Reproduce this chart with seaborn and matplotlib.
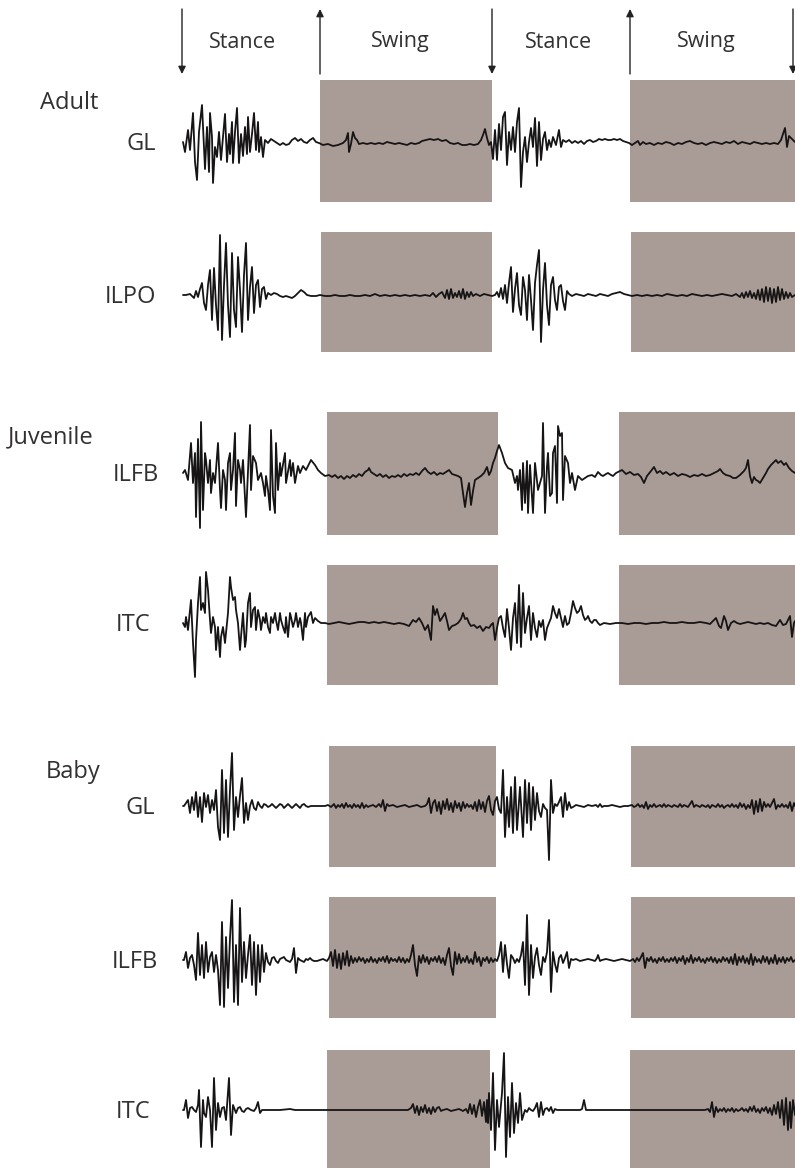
import matplotlib
matplotlib.use("Agg")
import matplotlib.pyplot as plt
import seaborn as sns
import pandas as pd

# ---------------- data: EMG traces, (time, amplitude) ----------------
ADULT_GL = [(183,0),(185,-10),(188,12),(190,-8),(193,29),(195,-20),(197,-38),(199,10),(202,37),(204,-5),(205,-27),(207,15),(209,-30),(210,29),(212,5),(213,-41),(215,-5),(217,-15),(219,10),(221,-18),(223,5),(225,28),(227,-20),(229,8),(230,-12),(232,20),(233,-21),(235,10),(237,34),(239,-21),(241,8),(243,-14),(245,15),(247,-12),(248,25),(250,-10),(252,8),(254,29),(256,-8),(258,20),(259,-10),(261,5),(263,-15),(265,2),(268,-1),(271,3),(274,1),(277,-1),(280,-3),(283,-1),(286,-3),(289,-2),(292,2),(295,4),(298,1),(301,3),(304,0),(307,-1),(310,2),(313,4),(316,0),(319,-1),(323,-3),(328,-2),(333,-4),(338,-3),(343,-1),(346,2),(348,9),(349,-10),(351,-2),(353,10),(355,4),(357,2),(359,-2),(363,-1),(367,-2),(371,-1),(375,-2),(379,-1),(383,-2),(387,0),(391,-1),(395,-2),(399,-1),(403,-2),(407,-3),(411,-1),(415,-2),(419,-1),(422,1),(426,2),(430,3),(434,2),(438,3),(442,1),(446,2),(450,-1),(454,-2),(458,-1),(462,-3),(466,-3),(470,-2),(474,-3),(478,-2),(481,2),(483,7),(485,13),(487,4),(489,-3),(491,0),(493,-17),(495,12),(497,-18),(499,18),(501,-8),(503,25),(505,30),(507,-23),(509,10),(511,-8),(513,15),(515,-10),(517,20),(519,34),(521,-45),(523,-10),(525,5),(527,-20),(529,0),(531,14),(533,-5),(535,24),(537,-24),(539,20),(541,-18),(543,3),(545,10),(547,-8),(549,2),(551,-5),(553,5),(556,-3),(559,12),(561,-5),(563,2),(566,0),(569,2),(572,-1),(575,1),(578,-1),(581,1),(584,-2),(587,1),(590,2),(593,0),(596,1),(599,3),(602,2),(605,3),(608,2),(611,2),(614,3),(617,2),(620,3),(623,1),(626,0),(629,-1),(632,-3),(635,-1),(638,1),(640,-3),(643,0),(646,-2),(650,-1),(654,-3),(658,-1),(662,-2),(666,0),(670,-1),(674,-3),(678,-1),(682,-2),(686,0),(690,1),(694,-1),(698,-2),(702,-1),(706,-3),(710,-1),(714,0),(718,-1),(722,-2),(726,0),(730,-1),(734,1),(738,-2),(742,0),(746,-1),(750,-2),(754,0),(758,-1),(762,-2),(766,-1),(770,-2),(774,-1),(778,-2),(781,2),(783,8),(785,14),(787,-5),(789,6),(792,3),(795,0)]

ADULT_ILPO = [(183,0),(186,0),(190,1),(194,-3),(196,4),(198,-2),(200,6),(202,12),(204,-8),(206,-15),(208,10),(210,25),(212,-25),(214,27),(216,-10),(218,-35),(220,60),(222,-45),(224,10),(226,52),(228,-10),(230,-42),(232,42),(234,-15),(236,-32),(238,38),(240,5),(242,-37),(244,20),(246,52),(248,-25),(250,8),(252,28),(254,-18),(256,10),(258,15),(260,-12),(262,6),(264,8),(266,-4),(268,2),(271,0),(274,2),(277,1),(280,-1),(283,-2),(286,-1),(289,-2),(292,-3),(295,-1),(298,2),(301,5),(304,3),(307,0),(311,-1),(316,-1),(320,0),(325,-1),(330,-1),(335,0),(340,-1),(345,-1),(350,0),(355,-1),(360,-1),(365,0),(370,-1),(375,1),(380,-1),(385,0),(390,-1),(395,0),(400,-1),(405,0),(410,-1),(415,0),(420,-1),(425,0),(430,-1),(433,2),(436,-2),(439,1),(442,3),(445,-3),(447,5),(449,-4),(451,6),(453,-3),(455,2),(457,-2),(459,4),(461,-3),(463,6),(465,-4),(467,3),(469,-2),(471,3),(473,-1),(476,1),(480,-1),(484,1),(488,0),(492,-1),(495,0),(497,3),(499,-2),(501,7),(503,-4),(505,10),(507,-8),(509,12),(511,28),(513,-17),(515,6),(517,22),(519,-10),(521,-20),(523,18),(525,5),(527,-25),(529,20),(531,-5),(533,-35),(535,12),(537,30),(539,45),(541,-47),(543,5),(545,32),(547,-10),(549,-30),(551,10),(553,18),(555,-5),(557,-15),(559,8),(561,10),(563,-6),(565,-15),(567,4),(569,1),(572,-1),(576,1),(580,0),(584,-1),(588,1),(592,0),(596,-1),(600,1),(604,0),(608,-1),(612,1),(616,2),(620,3),(624,1),(628,0),(632,-1),(637,0),(642,-1),(647,0),(652,-1),(657,0),(662,-1),(667,1),(672,0),(677,-1),(682,0),(687,-1),(692,1),(697,0),(702,-1),(707,0),(712,-1),(717,0),(722,1),(727,0),(732,-1),(736,1),(740,-2),(742,2),(744,-3),(746,3),(748,-2),(750,4),(752,-3),(754,2),(756,-4),(758,5),(760,-5),(762,6),(764,-7),(766,8),(768,-6),(770,7),(772,-8),(774,6),(776,-7),(778,8),(780,-5),(782,6),(784,-4),(786,3),(788,-3),(790,2),(792,-2),(795,0)]

JUV_ILFB = [(183,0),(185,3),(188,-7),(191,30),(193,-10),(195,20),(196,-44),(198,34),(200,-55),(201,51),(203,-37),(205,20),(206,13),(208,-10),(210,13),(211,-20),(213,0),(215,-10),(218,30),(220,-17),(221,-35),(223,3),(225,-7),(226,-37),(228,10),(230,20),(231,-17),(233,3),(235,40),(236,-33),(238,13),(240,3),(241,-10),(243,13),(246,-44),(250,48),(251,-17),(253,17),(256,10),(258,-7),(261,0),(263,-10),(265,-23),(266,-3),(268,-17),(270,-37),(271,43),(273,-23),(275,-40),(276,30),(278,-17),(280,10),(281,-3),(285,20),(286,-10),(290,13),(291,-3),(293,10),(295,-10),(298,7),(300,0),(303,7),(306,3),(311,13),(315,8),(318,3),(321,0),(325,-3),(329,-2),(332,-4),(335,-2),(338,-5),(341,-3),(344,-6),(347,-3),(350,-5),(353,-2),(356,-4),(359,-1),(362,-3),(365,1),(368,3),(369,5),(371,1),(374,-1),(377,-3),(380,-1),(383,-4),(386,-2),(389,-5),(392,-3),(395,-4),(398,-2),(401,-4),(404,-1),(407,-3),(410,-1),(413,-2),(416,0),(419,-2),(422,2),(425,5),(428,1),(431,-1),(434,1),(437,-2),(440,0),(443,-1),(446,1),(449,3),(452,-1),(455,-2),(458,-3),(461,-5),(463,-20),(465,-34),(467,-20),(469,-10),(471,-32),(473,-18),(475,-7),(478,-5),(481,-3),(484,0),(487,6),(489,-2),(491,2),(493,10),(495,15),(497,22),(499,28),(502,20),(505,10),(508,5),(512,3),(515,-10),(517,-3),(518,-17),(520,3),(522,-37),(523,10),(525,-30),(527,12),(528,-40),(530,8),(533,-40),(535,10),(538,-17),(542,-3),(543,50),(545,-40),(547,7),(548,20),(550,-23),(552,-20),(553,20),(555,27),(557,-30),(558,47),(560,37),(562,40),(563,-27),(565,17),(568,10),(570,-10),(572,0),(575,-17),(578,-3),(582,-7),(585,-5),(588,-3),(592,-2),(595,-4),(598,1),(601,-2),(603,-3),(606,-1),(608,0),(611,-2),(613,-3),(616,0),(618,1),(622,3),(626,-1),(630,1),(634,-2),(638,-1),(641,-4),(644,-10),(647,-3),(651,2),(654,6),(657,0),(660,2),(663,-1),(666,1),(670,-2),(674,0),(678,-3),(682,-1),(686,-2),(690,-4),(694,-2),(698,-3),(702,-1),(706,-3),(710,-2),(714,0),(718,2),(720,4),(723,0),(726,-2),(730,-3),(733,-5),(736,-5),(740,-2),(744,2),(746,5),(748,13),(750,-3),(752,-10),(754,-4),(756,-7),(758,-8),(760,-10),(763,-5),(766,0),(768,4),(771,8),(774,11),(776,13),(778,10),(781,12),(784,8),(786,10),(789,5),(792,2),(795,0)]

JUV_ITC = [(183,0),(185,-4),(186,6),(188,-7),(191,23),(193,-20),(195,-54),(196,-17),(198,20),(200,46),(201,13),(203,20),(205,10),(206,51),(208,33),(210,3),(211,-10),(213,6),(215,-4),(216,-27),(218,-4),(220,-34),(221,-14),(223,-4),(225,-20),(228,10),(230,46),(231,36),(233,23),(235,26),(236,13),(238,0),(240,-27),(241,-14),(243,10),(245,-24),(246,-17),(248,20),(250,30),(251,-4),(253,13),(255,16),(256,-7),(258,13),(260,3),(261,-7),(263,6),(265,0),(266,10),(268,-4),(270,-10),(271,6),(273,0),(275,10),(276,3),(278,-7),(280,10),(281,3),(283,-4),(285,-10),(286,6),(288,-14),(290,10),(291,6),(293,-4),(295,3),(296,10),(298,-4),(300,5),(301,0),(303,-17),(305,10),(306,-4),(308,6),(311,11),(313,0),(315,5),(318,2),(321,0),(325,0),(329,-1),(334,0),(339,1),(344,0),(349,-1),(354,0),(359,1),(364,1),(369,0),(374,1),(379,0),(384,1),(389,0),(394,-1),(399,0),(404,-1),(409,-3),(411,0),(413,3),(416,1),(419,5),(422,0),(425,-7),(428,-2),(431,-17),(433,17),(435,8),(437,14),(440,2),(442,5),(445,10),(447,2),(449,-7),(452,-3),(455,-2),(458,0),(461,4),(463,10),(465,4),(467,5),(469,0),(471,-3),(474,-2),(477,-5),(480,-3),(483,-8),(486,-4),(489,-5),(491,-2),(493,0),(495,-17),(497,-5),(499,5),(501,7),(503,-5),(505,-14),(507,14),(509,-5),(511,-27),(513,5),(515,20),(517,-20),(519,38),(521,-24),(523,30),(525,-10),(527,5),(529,17),(531,-17),(533,10),(535,-5),(537,-14),(539,2),(541,-4),(543,3),(545,-17),(547,-5),(549,0),(551,5),(553,17),(555,10),(557,5),(559,14),(561,5),(563,-4),(565,7),(567,-2),(569,0),(571,10),(573,22),(575,15),(577,10),(579,12),(581,17),(583,8),(585,3),(587,5),(588,7),(590,2),(592,0),(594,3),(596,3),(598,0),(600,-2),(604,0),(610,-1),(616,0),(622,0),(628,-1),(634,0),(640,0),(646,-1),(652,0),(658,0),(664,1),(670,0),(676,0),(682,1),(688,0),(694,0),(700,1),(706,0),(710,-1),(713,2),(716,5),(719,-3),(721,-5),(724,7),(726,2),(728,-7),(731,0),(734,2),(737,0),(740,-1),(744,0),(748,1),(752,0),(756,-1),(760,0),(764,-1),(768,0),(772,-2),(776,-3),(778,0),(780,3),(783,-2),(786,-1),(788,3),(790,7),(792,-14),(794,0),(795,2)]

BABY_GL = [(183,0),(184,0),(188,6),(190,-7),(192,9),(194,-4),(196,14),(198,-11),(200,9),(202,-16),(204,13),(206,-1),(208,11),(210,-7),(212,6),(214,-4),(216,16),(218,-21),(220,-34),(222,36),(224,-27),(226,26),(228,-31),(230,16),(232,53),(234,-24),(236,9),(238,-11),(240,10),(242,28),(244,-17),(246,3),(248,-14),(250,0),(252,6),(254,-2),(256,-4),(258,4),(260,0),(262,-2),(264,2),(266,1),(268,-1),(270,0),(272,2),(274,0),(276,-2),(278,0),(280,2),(282,1),(284,-2),(286,0),(288,2),(290,0),(292,-2),(294,0),(296,2),(298,0),(300,-2),(302,1),(304,2),(306,0),(308,-1),(311,0),(315,0),(320,0),(325,0),(328,1),(331,-1),(334,2),(336,-2),(338,1),(340,-1),(342,2),(344,-2),(346,3),(348,-1),(350,1),(352,-2),(354,2),(356,-1),(358,1),(360,-2),(362,3),(364,-2),(366,1),(368,-1),(370,0),(373,1),(376,-1),(379,2),(381,-1),(383,6),(385,-5),(387,2),(389,0),(393,1),(397,-1),(401,0),(405,1),(409,-1),(413,0),(417,1),(421,-1),(425,0),(427,2),(429,8),(431,-7),(433,3),(435,6),(437,-5),(439,4),(441,-8),(443,5),(445,-3),(447,7),(449,-4),(451,3),(453,-6),(455,5),(457,-2),(459,3),(461,-5),(463,4),(465,-2),(467,2),(469,-1),(471,1),(473,-3),(475,4),(477,-5),(479,6),(481,-3),(483,4),(485,-6),(487,5),(489,10),(491,-4),(493,-9),(495,5),(497,9),(499,-3),(501,-7),(503,36),(505,-31),(507,9),(509,-21),(511,19),(513,-27),(515,29),(517,-24),(520,19),(523,-31),(525,26),(527,-17),(529,23),(531,-24),(533,19),(535,-14),(537,13),(539,-5),(541,-11),(543,2),(545,-2),(547,-4),(549,-54),(551,26),(553,-7),(555,2),(557,0),(559,4),(561,9),(563,-11),(565,13),(567,-4),(569,4),(571,-2),(573,-1),(576,1),(580,0),(584,-1),(588,1),(592,0),(596,1),(598,-1),(600,2),(602,-1),(604,0),(608,0),(612,1),(616,0),(620,-1),(624,0),(628,0),(632,1),(634,-1),(636,0),(638,2),(640,-1),(642,1),(644,-2),(646,4),(648,-3),(650,1),(652,-1),(654,2),(656,-1),(658,0),(660,1),(662,-1),(664,2),(666,-1),(668,1),(670,0),(672,-1),(674,1),(676,0),(678,-1),(680,2),(682,-1),(684,1),(686,0),(688,-1),(690,2),(692,5),(694,-1),(696,1),(698,0),(700,-1),(702,1),(704,0),(706,-1),(708,1),(710,-2),(712,1),(714,0),(716,-1),(718,2),(720,-1),(722,1),(724,-2),(726,0),(728,1),(730,-1),(732,2),(734,-1),(736,1),(738,-2),(740,3),(742,-1),(744,2),(746,-3),(748,1),(750,-2),(752,6),(754,-8),(756,5),(758,-6),(760,7),(762,-5),(764,4),(766,-1),(768,2),(770,-1),(772,3),(774,7),(776,-3),(778,1),(780,-1),(782,2),(784,-1),(786,1),(788,-2),(790,4),(792,-5),(794,3),(795,0)]

BABY_ILFB = [(183,0),(184,0),(186,8),(188,-8),(190,2),(192,5),(194,-5),(196,-20),(198,27),(200,-15),(202,15),(204,-18),(206,18),(208,-12),(210,3),(212,8),(214,-12),(216,5),(218,-10),(220,-45),(222,38),(224,-47),(226,23),(228,-28),(230,22),(232,60),(234,-42),(236,15),(238,-45),(240,52),(242,-22),(244,18),(246,-18),(248,5),(250,25),(252,-25),(254,18),(256,-35),(258,15),(260,-22),(262,15),(264,-12),(266,7),(268,-2),(270,-5),(272,2),(274,3),(276,-1),(278,-3),(280,1),(282,2),(284,3),(286,0),(288,-1),(290,-2),(292,1),(294,12),(296,-13),(298,2),(300,0),(302,-1),(304,-2),(306,1),(308,0),(310,2),(312,0),(314,-1),(317,-1),(320,0),(323,1),(325,0),(327,-1),(329,2),(331,8),(333,-6),(335,10),(337,-8),(339,6),(341,-9),(343,7),(345,-5),(347,9),(349,-6),(351,4),(353,-3),(355,2),(357,-2),(359,3),(361,-1),(363,2),(365,-3),(367,1),(369,-2),(371,3),(373,-2),(375,1),(377,-3),(379,2),(381,-1),(383,3),(385,-2),(387,4),(389,-3),(391,2),(393,-1),(395,1),(397,-2),(399,3),(401,-2),(403,2),(405,-3),(407,1),(409,-2),(411,5),(413,15),(415,-5),(417,-16),(419,4),(421,-3),(423,5),(425,-2),(427,3),(429,-4),(431,2),(433,-1),(435,3),(437,-2),(439,4),(441,-3),(443,2),(445,-5),(447,5),(449,12),(451,-6),(453,-15),(455,8),(457,-4),(459,6),(461,-3),(463,2),(465,-2),(467,4),(469,-3),(471,1),(473,-4),(475,8),(477,-2),(479,3),(481,-6),(483,2),(485,-1),(487,3),(489,-3),(491,2),(493,-2),(495,1),(497,-1),(499,5),(501,18),(503,-12),(505,15),(507,-4),(509,-18),(511,5),(513,2),(515,-3),(517,1),(519,-2),(521,5),(523,18),(525,-25),(527,45),(529,-35),(531,15),(533,-18),(535,3),(537,12),(539,-5),(541,-15),(543,3),(545,-2),(547,8),(549,40),(551,-32),(553,8),(555,-4),(557,-12),(559,2),(561,5),(563,-3),(565,2),(567,8),(569,-8),(571,1),(573,0),(576,1),(580,-1),(584,0),(588,1),(592,0),(595,-1),(597,2),(598,5),(600,-1),(602,0),(606,1),(610,0),(614,-1),(618,0),(622,1),(626,0),(630,-1),(633,1),(635,-2),(637,2),(639,-1),(641,3),(643,7),(645,-8),(647,2),(649,-1),(651,3),(653,-2),(655,1),(657,-3),(659,2),(661,-1),(663,3),(665,-2),(667,1),(669,-2),(671,2),(673,-1),(675,3),(677,-3),(679,2),(681,-1),(683,4),(685,-4),(687,2),(689,-2),(691,5),(693,-3),(695,2),(697,-1),(699,3),(701,-2),(703,1),(705,-3),(707,2),(709,-1),(711,3),(713,-2),(715,2),(717,-3),(719,1),(721,-2),(723,3),(725,-1),(727,2),(729,-3),(731,3),(733,-4),(735,6),(737,-5),(739,3),(741,-2),(743,4),(745,-3),(747,2),(749,-4),(751,6),(753,-5),(755,3),(757,-2),(759,1),(761,-3),(763,4),(765,-2),(767,3),(769,-4),(771,2),(773,-3),(775,5),(777,-4),(779,2),(781,-2),(783,3),(785,-3),(787,2),(789,-1),(791,3),(793,-2),(795,0)]

BABY_ITC = [(183,0),(184,0),(186,10),(188,-8),(190,2),(192,3),(194,0),(196,-2),(198,5),(199,20),(201,-37),(203,10),(204,-3),(206,-7),(208,13),(210,0),(212,-37),(214,32),(216,-20),(218,7),(220,-7),(222,2),(224,3),(226,-10),(229,32),(231,-25),(233,5),(236,-3),(238,2),(240,3),(242,-1),(244,-2),(246,1),(248,2),(251,0),(254,-1),(256,2),(258,8),(260,-3),(262,0),(270,0),(280,0),(290,1),(295,0),(300,0),(310,0),(320,0),(330,0),(340,0),(350,0),(360,0),(370,0),(380,0),(390,0),(400,0),(408,0),(411,2),(413,6),(415,-3),(417,4),(419,-5),(421,3),(423,-2),(425,5),(427,-3),(429,2),(431,-4),(433,3),(435,-2),(437,2),(439,3),(441,-1),(443,0),(447,1),(451,-1),(455,0),(459,1),(463,-1),(466,1),(468,-3),(470,6),(472,-4),(474,5),(476,-7),(478,3),(480,10),(482,-6),(484,8),(486,-12),(487,10),(488,-13),(489,17),(491,-20),(493,37),(495,-40),(497,10),(499,-17),(502,17),(504,57),(506,-47),(508,13),(510,-27),(512,27),(514,-23),(516,7),(518,-13),(520,17),(522,-10),(525,0),(527,-2),(529,2),(531,0),(533,-1),(535,2),(537,7),(539,-7),(541,8),(543,-5),(545,1),(547,2),(549,-1),(551,3),(553,-3),(555,1),(557,0),(562,0),(568,0),(574,0),(580,0),(582,1),(584,10),(586,0),(588,0),(595,0),(605,0),(615,0),(625,0),(635,0),(645,0),(655,0),(665,0),(675,0),(685,0),(695,0),(705,0),(708,1),(710,-2),(712,8),(714,-7),(716,3),(718,-2),(720,1),(722,-1),(724,2),(726,-2),(728,1),(730,-1),(732,2),(734,-2),(736,1),(738,-1),(740,0),(742,2),(744,-1),(746,1),(748,-2),(750,3),(752,-1),(754,4),(756,-2),(758,1),(760,-3),(762,2),(764,-1),(766,3),(768,-3),(770,2),(772,-5),(774,5),(776,-4),(778,8),(780,-8),(782,10),(784,-15),(786,12),(788,-20),(790,8),(791,-18),(793,10),(795,-5)]

# gait events (time units): stance onsets (down arrows) and swing onsets (up arrows)
STANCE_ONSETS = [182, 492, 793]
SWING_ONSETS = [320, 630]
PHASE_LABELS = ["Stance", "Swing", "Stance", "Swing"]
PHASE_LABEL_T = [243, 400, 558, 706]

# per-trace swing periods (shaded)
SWING_ADULT_GL = [(320, 492), (630, 800)]
SWING_ADULT_ILPO = [(321, 492), (631, 800)]
SWING_JUV = [(327, 498), (619, 800)]
SWING_BABY = [(329, 496), (631, 800)]
SWING_BABY_ITC = [(327, 490), (630, 800)]

MUSCLES = ["GL", "ILPO", "ILFB", "ITC", "GL", "ILFB", "ITC"]
GROUPS = ["Adult", "Juvenile", "Baby"]

# ---------------- style ----------------
sns.set_theme(style="white")
plt.rcParams["font.family"] = ["Open Sans", "DejaVu Sans"]
BOX = "#a99c97"
INK = "#161414"
TXT = "#333030"

W, H = 795, 1168
fig = plt.figure(figsize=(W / 100, H / 100), dpi=100)
fig.patch.set_facecolor("white")

def fx(x):
    return x / W

def fy(y):
    return 1 - y / H

# layout of rows (pixel bands: top, bottom, baseline, label right edge)
rows = [
    (ADULT_GL, SWING_ADULT_GL, 80, 202, 142, 156, MUSCLES[0]),
    (ADULT_ILPO, SWING_ADULT_ILPO, 232, 352, 295, 156, MUSCLES[1]),
    (JUV_ILFB, SWING_JUV, 412, 535, 473, 159, MUSCLES[2]),
    (JUV_ITC, SWING_JUV, 565, 685, 623, 150, MUSCLES[3]),
    (BABY_GL, SWING_BABY, 746, 867, 806, 155, MUSCLES[4]),
    (BABY_ILFB, SWING_BABY, 897, 1018, 960, 158, MUSCLES[5]),
    (BABY_ITC, SWING_BABY_ITC, 1050, 1168, 1110, 150, MUSCLES[6]),
]

for data, swings, top, bot, base, lab_x, name in rows:
    ax = fig.add_axes([0, fy(bot), 1, (bot - top) / H])
    ax.set_xlim(0, W)
    ax.set_ylim(-(bot - base), base - top)
    ax.axis("off")
    for a, b in swings:
        ax.axvspan(a, b, ymin=0, ymax=1, color=BOX, lw=0, zorder=0)
    df = pd.DataFrame(data, columns=["t", "v"])
    sns.lineplot(data=df, x="t", y="v", ax=ax, color=INK, lw=1.3,
                 sort=False, estimator=None, zorder=3, clip_on=False)
    fig.text(fx(lab_x), fy(base + 2), name, ha="right", va="center",
             fontsize=17, color=TXT)

# group labels
fig.text(fx(40), fy(103), GROUPS[0], ha="left", va="center", fontsize=17, color=TXT)
fig.text(fx(8), fy(437), GROUPS[1], ha="left", va="center", fontsize=17, color=TXT)
fig.text(fx(46), fy(772), GROUPS[2], ha="left", va="center", fontsize=17, color=TXT)

# arrow / phase row
axa = fig.add_axes([0, fy(80), 1, 80 / H])
axa.set_xlim(0, W)
axa.set_ylim(80, 0)
axa.axis("off")
for t in STANCE_ONSETS:
    axa.annotate("", xy=(t, 74), xytext=(t, 9),
                 arrowprops=dict(arrowstyle="-|>", color="#222222", lw=1.0,
                                 mutation_scale=11, shrinkA=0, shrinkB=0))
for t in SWING_ONSETS:
    axa.annotate("", xy=(t, 9), xytext=(t, 74),
                 arrowprops=dict(arrowstyle="-|>", color="#222222", lw=1.0,
                                 mutation_scale=11, shrinkA=0, shrinkB=0))
for lab, t in zip(PHASE_LABELS, PHASE_LABEL_T):
    axa.text(t, 42, lab, ha="center", va="center", fontsize=15.5, color=TXT)

fig.savefig("out.png", dpi=100, facecolor="white")
